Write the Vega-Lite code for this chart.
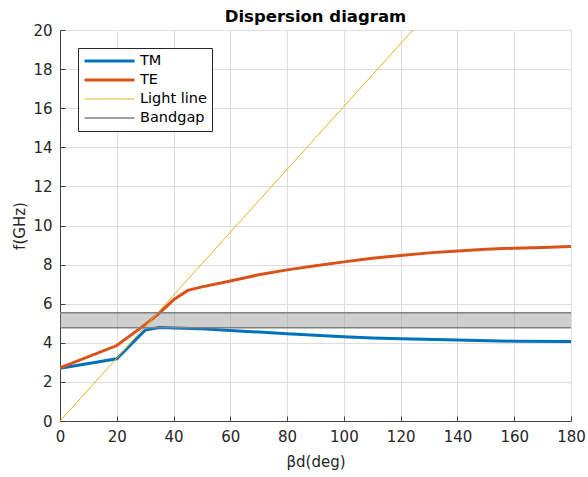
{
  "$schema": "https://vega.github.io/schema/vega-lite/v6.json",
  "width": 511,
  "height": 391,
  "autosize": {"type": "none"},
  "padding": {"left": 60, "top": 30, "right": 17, "bottom": 56},
  "background": "white",
  "title": {"text": "Dispersion diagram", "fontSize": 16.5, "font": "DejaVu Sans", "fontWeight": "bold", "color": "#000000", "offset": -2, "anchor": "middle"},
  "config": {
    "view": {"stroke": null},
    "font": "DejaVu Sans",
    "axis": {
      "domainColor": "#404040",
      "tickColor": "#404040",
      "gridColor": "#dedede",
      "labelColor": "#262626",
      "titleColor": "#262626",
      "labelFontSize": 15,
      "titleFontSize": 15,
      "titleFontWeight": "normal",
      "tickSize": -5,
      "labelOverlap": false,
      "labelFlush": false,
      "grid": true
    }
  },
  "datasets": {
    "band": [{"x": 0, "x2": 180, "y": 4.77, "y2": 5.54}],
    "curves": [
      {"x": 0, "y": 2.7, "series": "TM", "seg": "TM"},
      {"x": 20, "y": 3.18, "series": "TM", "seg": "TM"},
      {"x": 30, "y": 4.65, "series": "TM", "seg": "TM"},
      {"x": 35, "y": 4.78, "series": "TM", "seg": "TM"},
      {"x": 40, "y": 4.76, "series": "TM", "seg": "TM"},
      {"x": 50, "y": 4.72, "series": "TM", "seg": "TM"},
      {"x": 60, "y": 4.63, "series": "TM", "seg": "TM"},
      {"x": 70, "y": 4.55, "series": "TM", "seg": "TM"},
      {"x": 80, "y": 4.46, "series": "TM", "seg": "TM"},
      {"x": 90, "y": 4.38, "series": "TM", "seg": "TM"},
      {"x": 100, "y": 4.31, "series": "TM", "seg": "TM"},
      {"x": 110, "y": 4.25, "series": "TM", "seg": "TM"},
      {"x": 120, "y": 4.21, "series": "TM", "seg": "TM"},
      {"x": 140, "y": 4.14, "series": "TM", "seg": "TM"},
      {"x": 160, "y": 4.08, "series": "TM", "seg": "TM"},
      {"x": 180, "y": 4.07, "series": "TM", "seg": "TM"},
      {"x": 0, "y": 2.72, "series": "TE", "seg": "TE"},
      {"x": 20, "y": 3.86, "series": "TE", "seg": "TE"},
      {"x": 30, "y": 4.93, "series": "TE", "seg": "TE"},
      {"x": 35, "y": 5.52, "series": "TE", "seg": "TE"},
      {"x": 40, "y": 6.2, "series": "TE", "seg": "TE"},
      {"x": 45, "y": 6.68, "series": "TE", "seg": "TE"},
      {"x": 50, "y": 6.86, "series": "TE", "seg": "TE"},
      {"x": 60, "y": 7.16, "series": "TE", "seg": "TE"},
      {"x": 70, "y": 7.48, "series": "TE", "seg": "TE"},
      {"x": 80, "y": 7.73, "series": "TE", "seg": "TE"},
      {"x": 90, "y": 7.94, "series": "TE", "seg": "TE"},
      {"x": 100, "y": 8.14, "series": "TE", "seg": "TE"},
      {"x": 110, "y": 8.32, "series": "TE", "seg": "TE"},
      {"x": 120, "y": 8.47, "series": "TE", "seg": "TE"},
      {"x": 130, "y": 8.6, "series": "TE", "seg": "TE"},
      {"x": 140, "y": 8.7, "series": "TE", "seg": "TE"},
      {"x": 150, "y": 8.78, "series": "TE", "seg": "TE"},
      {"x": 160, "y": 8.84, "series": "TE", "seg": "TE"},
      {"x": 170, "y": 8.88, "series": "TE", "seg": "TE"},
      {"x": 180, "y": 8.92, "series": "TE", "seg": "TE"},
      {"x": 0, "y": 0, "series": "Light line", "seg": "LL"},
      {"x": 124.3, "y": 20, "series": "Light line", "seg": "LL"},
      {"x": 0, "y": 4.77, "series": "Bandgap", "seg": "BG1"},
      {"x": 180, "y": 4.77, "series": "Bandgap", "seg": "BG1"},
      {"x": 0, "y": 5.54, "series": "Bandgap", "seg": "BG2"},
      {"x": 180, "y": 5.54, "series": "Bandgap", "seg": "BG2"}
    ]
  },
  "layer": [
    {
      "data": {"name": "band"},
      "mark": {"type": "rect", "fill": "#808080", "opacity": 0.38},
      "encoding": {
        "x": {"field": "x", "type": "quantitative", "scale": {"domain": [0, 180], "nice": false},
              "axis": {"values": [0, 20, 40, 60, 80, 100, 120, 140, 160, 180], "title": "βd(deg)", "labelPadding": 13, "titlePadding": 10}},
        "x2": {"field": "x2"},
        "y": {"field": "y", "type": "quantitative", "scale": {"domain": [0, 20], "nice": false},
              "axis": {"values": [0, 2, 4, 6, 8, 10, 12, 14, 16, 18, 20], "title": "f(GHz)", "labelPadding": 13, "titlePadding": 5}},
        "y2": {"field": "y2"}
      }
    },
    {
      "data": {"name": "curves"},
      "mark": {"type": "line", "clip": true},
      "encoding": {
        "x": {"field": "x", "type": "quantitative", "scale": {"domain": [0, 180], "nice": false},
              "axis": {"values": [0, 20, 40, 60, 80, 100, 120, 140, 160, 180], "title": "βd(deg)", "labelPadding": 13, "titlePadding": 10}},
        "y": {"field": "y", "type": "quantitative", "scale": {"domain": [0, 20], "nice": false},
              "axis": {"values": [0, 2, 4, 6, 8, 10, 12, 14, 16, 18, 20], "title": "f(GHz)", "labelPadding": 13, "titlePadding": 5}},
        "color": {"field": "series", "type": "nominal",
          "scale": {"domain": ["TM", "TE", "Light line", "Bandgap"], "range": ["#0072BD", "#D95319", "#EDB120", "#808080"]},
          "legend": {"orient": "top-left", "offset": 18, "title": null, "strokeColor": "#262626", "fillColor": "white", "padding": 5,
                     "symbolType": "stroke", "symbolSize": 2500, "labelFontSize": 14.5, "labelColor": "#000000", "labelOffset": 4, "clipHeight": 16, "rowPadding": 3}},
        "strokeWidth": {"field": "series", "type": "nominal",
          "scale": {"type": "ordinal", "domain": ["TM", "TE", "Light line", "Bandgap"], "range": [3, 3, 1, 1.5]},
          "legend": {"orient": "top-left", "offset": 18, "title": null}},
        "detail": {"field": "seg"},
        "order": {"field": "x"}
      }
    }
  ]
}
